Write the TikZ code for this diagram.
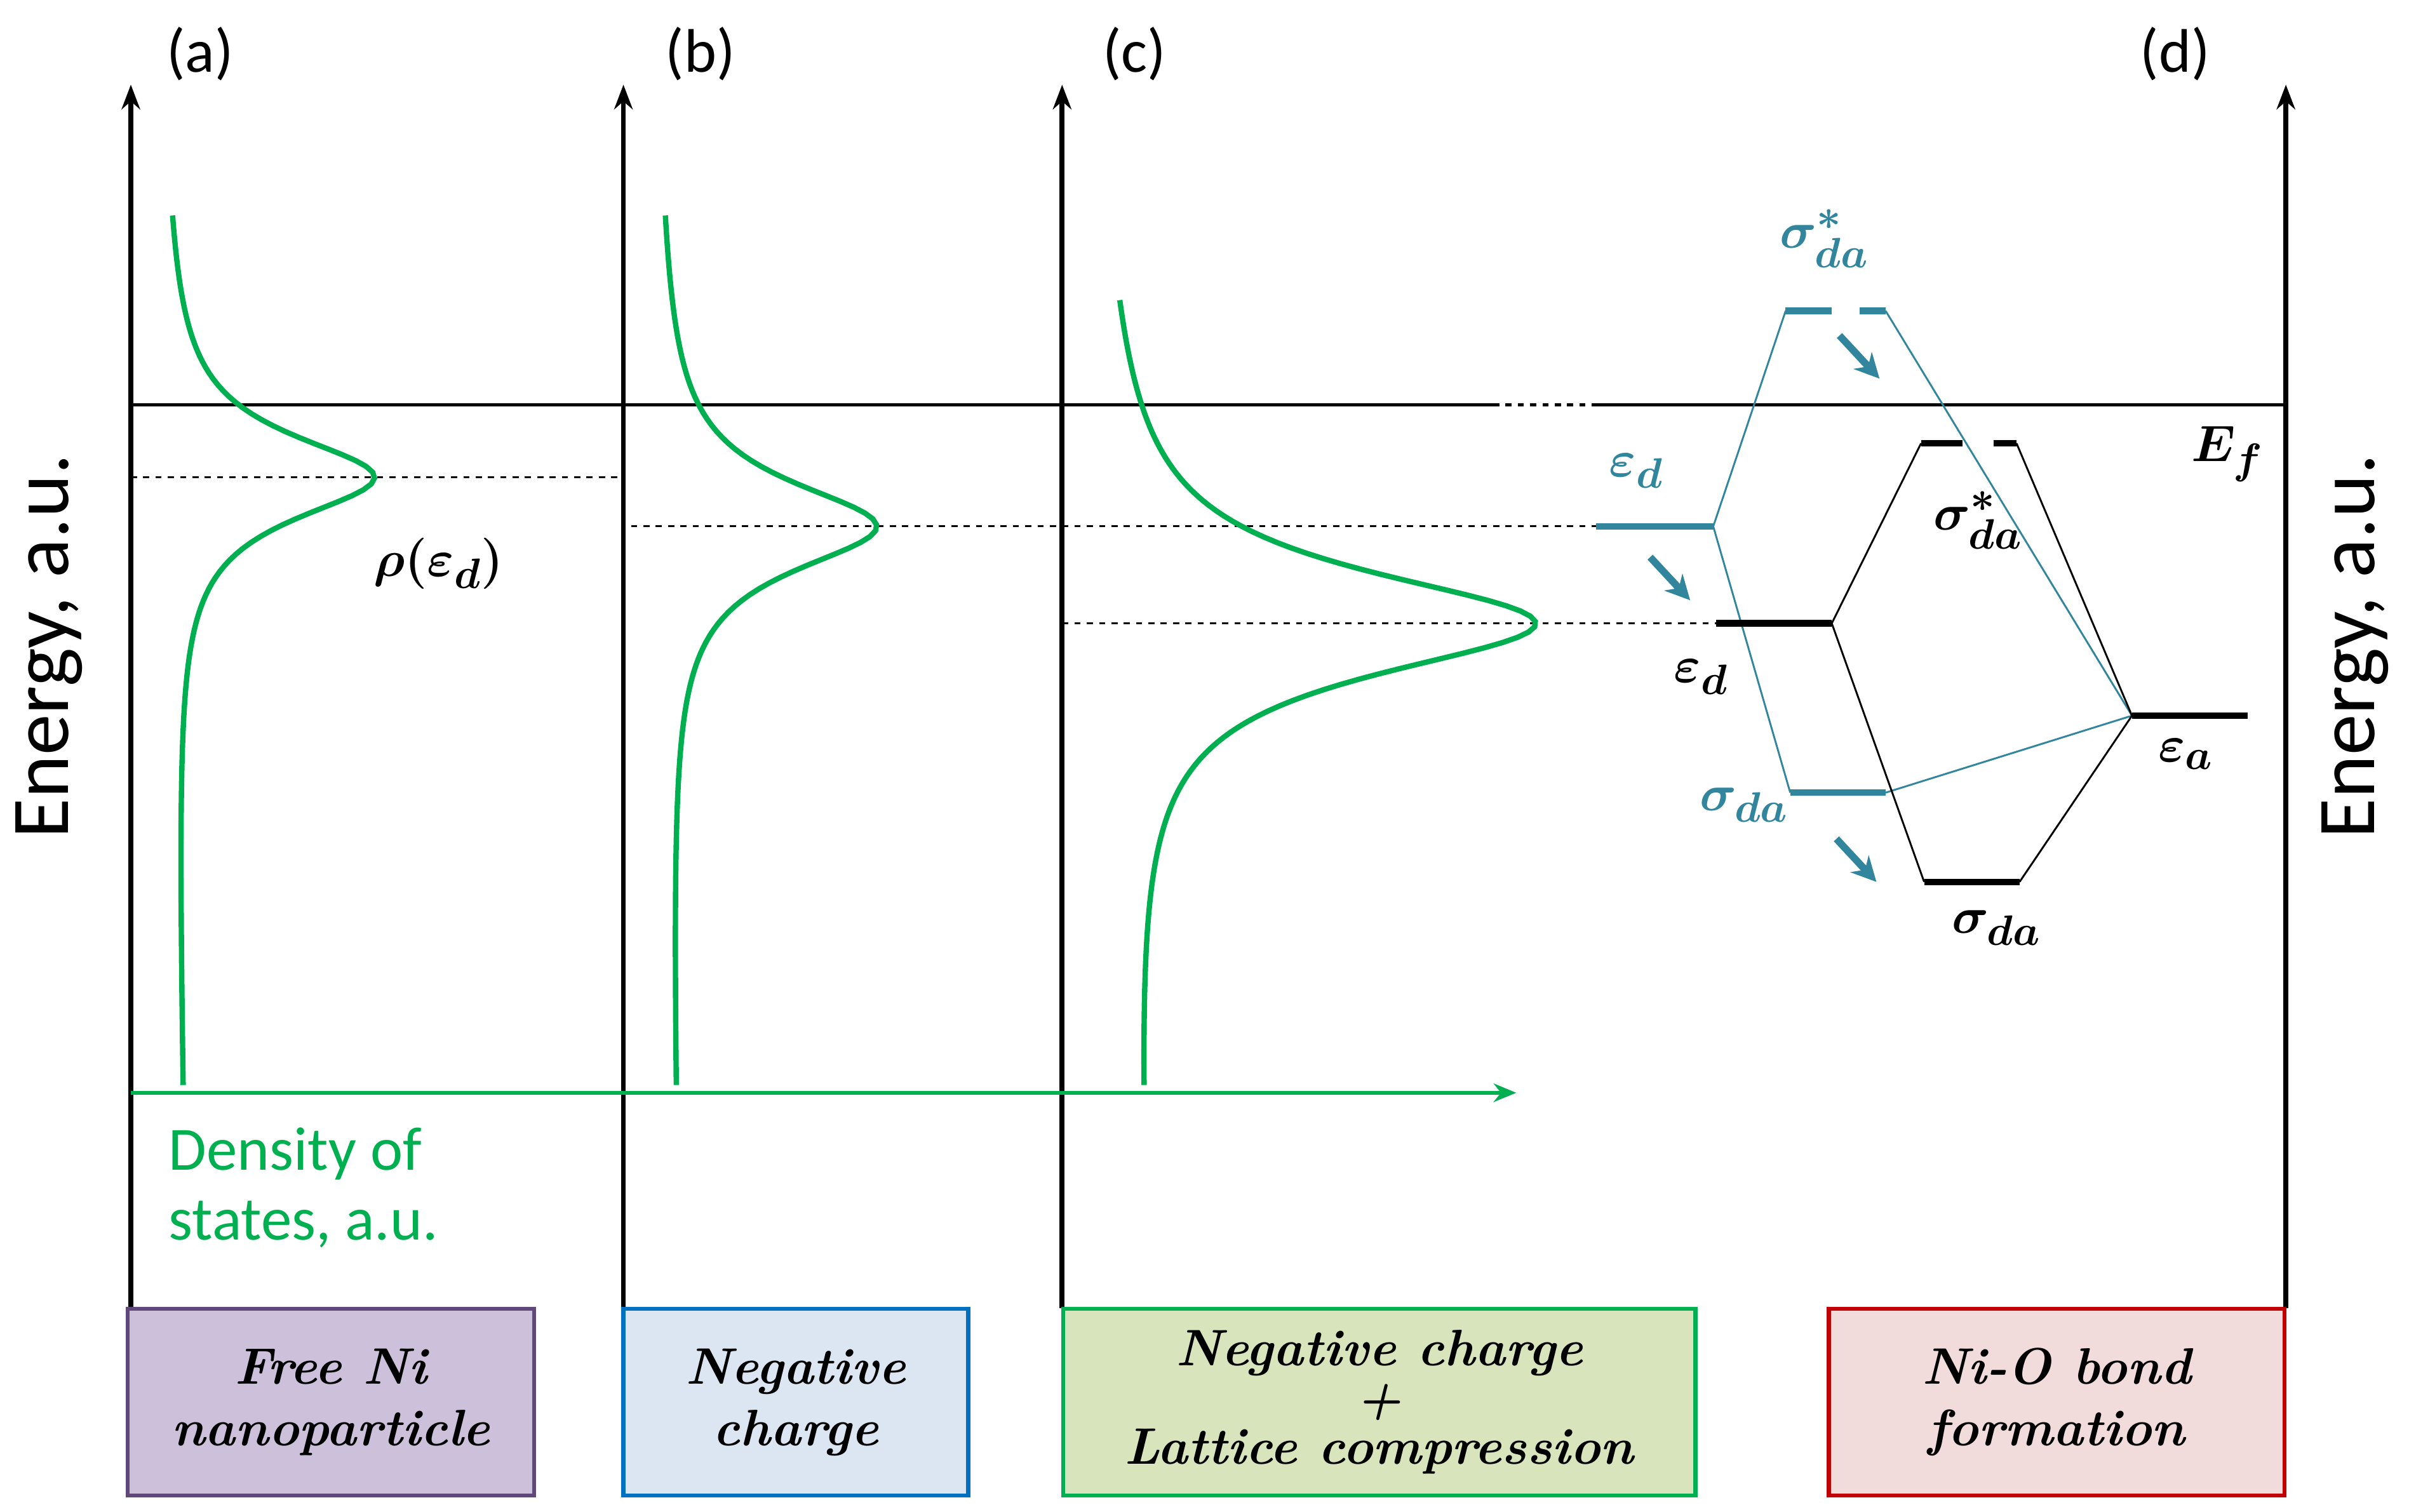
\documentclass[tikz,border=0pt]{standalone}
\usepackage{amsmath,bm}
\usepackage{fontspec}
\setsansfont{Carlito}
\usetikzlibrary{arrows.meta}
\definecolor{dosgreen}{RGB}{0,176,80}
\definecolor{teal}{RGB}{49,133,156}
\tikzset{
  axis/.style={line width=2.4pt,-{Stealth[length=12pt,width=9pt]}},
  dos/.style={dosgreen,line width=2.6pt},
  lvl/.style={line width=3.2pt},
  box/.style={draw,line width=2pt,minimum height=91pt,align=center,
    font=\fontsize{25}{30}\selectfont\bfseries\itshape},
  lbl/.style={font=\fontsize{30}{34}\selectfont},
}
\begin{document}
\begin{tikzpicture}[x=0.75pt,y=0.75pt,yscale=-1,xscale=1]
\useasboundingbox (0,0) rectangle (1565,982);

% axes
\foreach \ax/\lab/\lx in {85/a/130,405/b/455,690/c/737,1485/d/1413}{
  \draw[axis] (\ax,850) -- (\ax,55);
  \node[font=\sffamily\fontsize{30}{34}\selectfont] at (\lx,35) {(\lab)};
}
\node[rotate=90,font=\sffamily\fontsize{40}{44}\selectfont] at (32,420) {Energy, a.u.};
\node[rotate=90,font=\sffamily\fontsize{40}{44}\selectfont] at (1530,420) {Energy, a.u.};

% Fermi level and reference lines
\draw[line width=1.4pt] (85,263) -- (970,263);
\draw[line width=1.4pt,dashed] (970,263) -- (1035,263);
\draw[line width=1.4pt] (1035,263) -- (1485,263);
\draw[dashed,line width=0.9pt] (85,310) -- (405,310);
\draw[dashed,line width=0.9pt] (410,342) -- (1037,342);
\draw[dashed,line width=0.9pt] (690,405) -- (1115,405);

% density of states
\draw[dosgreen,line width=1.8pt,-{Stealth[length=11pt,width=9pt]}] (85,710) -- (985,710);
\node[dosgreen,align=left,anchor=north west,font=\sffamily\fontsize{30}{34}\selectfont] (doslab) at (105,728) {Density of\\states, a.u.};
\draw[dos] plot[domain=140:705,samples=150] ({107+(\x-140)*11/565+133/(1+((\x-310)/34)^2)},\x);
\draw[dos] plot[domain=140:705,samples=150] ({428+(\x-140)*10/565+138/(1+((\x-342)/36)^2)},\x);
\draw[dos] plot[domain=195:705,samples=150] ({717+(\x-195)*21/510+272/(1+((\x-405)/42)^2)},\x);
\node[lbl] (rho) at (285,366) {$\bm{\rho(\varepsilon_d)}$};

% (d) levels, blue
\draw[teal,lvl] (1037,342) -- (1113,342);
\draw[teal,lvl] (1160,202) -- (1190,202) (1208,202) -- (1225,202);
\draw[teal,lvl] (1163,515) -- (1225,515);
\draw[teal,line width=0.9pt] (1113,342) -- (1160,202) (1113,342) -- (1163,515)
  (1225,202) -- (1385,465) (1225,515) -- (1385,465);
\node[teal,lbl] at (1063,306) {$\bm{\varepsilon_d}$};
\node[teal,lbl] at (1185,155) {$\bm{\sigma^*_{da}}$};
\node[teal,lbl] at (1133,523) {$\bm{\sigma_{da}}$};
\foreach \sx/\sy in {1072/362,1195/218,1193/545}
  \draw[teal,line width=3.5pt,-{Stealth[length=12pt,width=12pt]}] (\sx,\sy) -- ++(26,28);

% (d) levels, black
\draw[lvl] (1115,405) -- (1190,405);
\draw[lvl] (1248,288) -- (1275,288) (1295,288) -- (1310,288);
\draw[lvl] (1250,573) -- (1312,573);
\draw[lvl] (1385,465) -- (1460,465);
\draw[line width=0.9pt] (1190,405) -- (1248,288) (1190,405) -- (1250,573)
  (1310,288) -- (1385,465) (1312,573) -- (1385,465);
\node[lbl] at (1105,440) {$\bm{\varepsilon_d}$};
\node[lbl] at (1285,338) {$\bm{\sigma^*_{da}}$};
\node[lbl] at (1297,603) {$\bm{\sigma_{da}}$};
\node[lbl] at (1420,490) {$\bm{\varepsilon_a}$};
\node[lbl] at (1447,295) {$\bm{E_f}$};

% boxes
\node[box,draw={rgb,255:red,96;green,73;blue,122},fill={rgb,255:red,204;green,192;blue,218},minimum width=198pt] (boxa) at (215,911) {Free Ni\\nanoparticle};
\node[box,draw={rgb,255:red,0;green,112;blue,192},fill={rgb,255:red,220;green,230;blue,242},minimum width=168pt] (boxb) at (517,911) {Negative\\charge};
\node[box,draw=dosgreen,fill={rgb,255:red,216;green,228;blue,188},minimum width=308pt,font=\fontsize{25}{24}\selectfont\bfseries\itshape] (boxc) at (896,911) {Negative charge\\+\\Lattice compression};
\node[box,draw={rgb,255:red,192;green,0;blue,0},fill={rgb,255:red,242;green,220;blue,219},minimum width=222pt] (boxd) at (1336,911) {Ni-O bond\\formation};
\end{tikzpicture}
\end{document}
